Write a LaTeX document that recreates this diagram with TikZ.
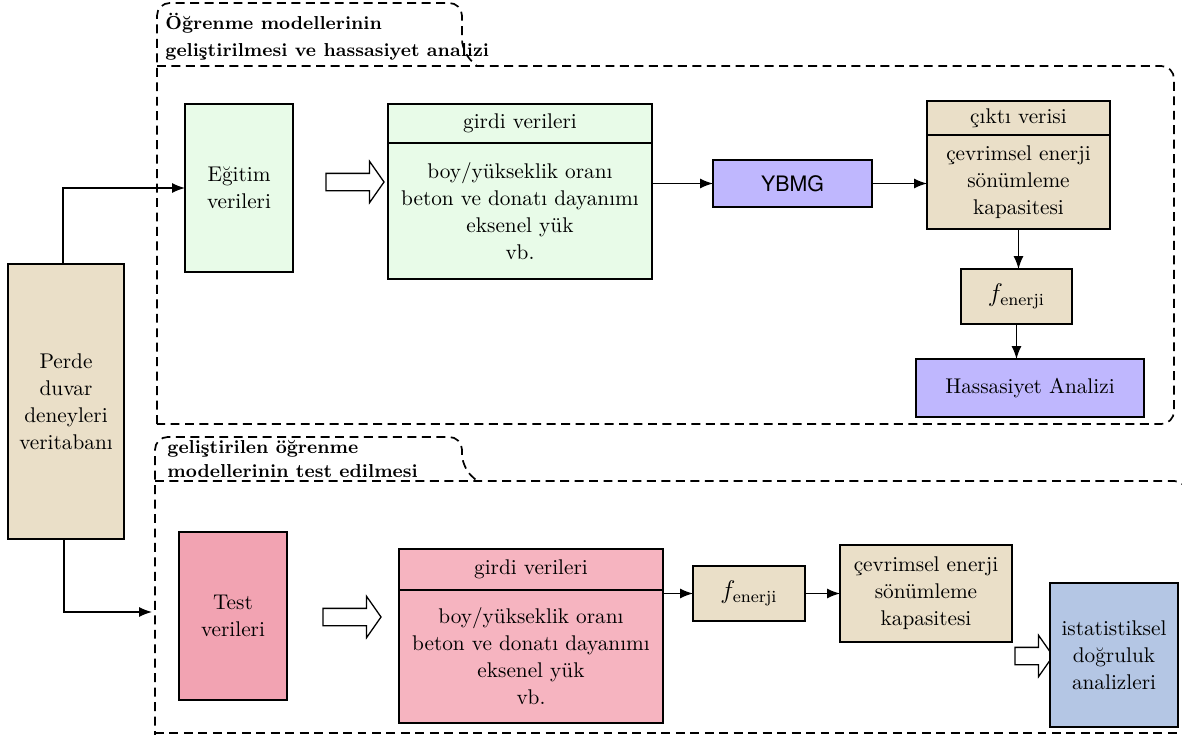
\documentclass[tikz,border=0pt]{standalone}
\usepackage{amsmath}
\usepackage{fontspec}
\usepackage{tikz}
\usetikzlibrary{shapes.arrows,arrows.meta}

\newfontfamily\heros{TeX Gyre Heros}
\definecolor{bej}{HTML}{EADFC8}
\definecolor{yesil}{HTML}{E8FBE8}
\definecolor{lila}{HTML}{BFB7FE}
\definecolor{pembe}{HTML}{F2A3B2}
\definecolor{acikpembe}{HTML}{F6B4C0}
\definecolor{mavi}{HTML}{B4C6E4}
\newcommand{\px}{0.47pt}

\begin{document}
\begin{tikzpicture}
    [ x=0.47pt, y=-0.47pt
    , font=\fontsize{10}{12.7}\selectfont
    , kutu/.style={draw, line width=0.8pt, inner sep=0pt, outer sep=0pt, align=center}
    , cerceve/.style={line width=0.8pt, dash pattern=on 4.2pt off 2.6pt, rounded corners=6pt}
    , baslik/.style={font=\fontsize{8.8}{12.4}\selectfont\bfseries, align=left, inner sep=0pt, anchor=north west}
    , ok/.style={-{Latex[length=6pt,width=4.6pt]}, line width=0.6pt}
    , bosok/.style={single arrow, draw, line width=0.6pt, fill=white, inner xsep=0pt, inner ysep=8*\px, single arrow head extend=12*\px, single arrow tip angle=110}
    , fmat/.style={font=\fontsize{12}{14}\selectfont}
    ]
\useasboundingbox (0,0) rectangle (1182,735);
\clip (0,0) rectangle (1182,735);

% ust grup
\draw[cerceve] (157,424) -- (157,3) -- (462,3) -- (462,52) -- (477,66);
\draw[cerceve] (157,66) -- (1174,66) -- (1174,424) -- (157,424);
\node[baslik] (baslik1) at (165,13) {Öğrenme modellerinin\\geliştirilmesi ve hassasiyet analizi};

% alt grup
\draw[cerceve] (155,740) -- (155,437) -- (462,437) -- (462,467) -- (477,481);
\draw[cerceve] (155,481) -- (1187,481) -- (1187,740);
\draw[cerceve] (155,733) -- (1190,733);
\node[baslik, font=\fontsize{8.8}{11.3}\selectfont\bfseries] (baslik2) at (167,440) {geliştirilen öğrenme\\modellerinin test edilmesi};

\node[kutu, fill=bej, minimum width=116*\px, minimum height=275*\px] (db) at (66,401.5) {Perde\\duvar\\deneyleri\\veritabanı};

\node[kutu, fill=yesil, minimum width=108*\px, minimum height=168*\px] (egitim) at (239,188) {Eğitim\\verileri};
\node[bosok, minimum height=58*\px] (bos1) at (352,182) {};
\node[kutu, fill=yesil, minimum width=264*\px, minimum height=39*\px] (girdi1) at (520,123.5) {girdi verileri};
\node[kutu, fill=yesil, minimum width=264*\px, minimum height=136*\px, anchor=north] (deger1) at (girdi1.south) {boy/yükseklik oranı\\beton ve donatı dayanımı\\eksenel yük\\vb.};
\node[kutu, fill=lila, minimum width=159*\px, minimum height=47*\px, font=\heros] (ybmg) at (792.5,183.5) {YBMG};
\node[kutu, fill=bej, minimum width=183*\px, minimum height=34*\px] (cikti) at (1018.5,118) {çıktı verisi};
\node[kutu, fill=bej, minimum width=183*\px, minimum height=94*\px, anchor=north] (enerji1) at (cikti.south) {çevrimsel enerji\\sönümleme\\kapasitesi};
\node[kutu, fmat, fill=bej, minimum width=111*\px, minimum height=55*\px] (fen1) at (1016.5,296.5) {$f_{\mathrm{enerji}}$};
\node[kutu, fill=lila, minimum width=228*\px, minimum height=58*\px] (hass) at (1030,388) {Hassasiyet Analizi};

\node[kutu, fill=pembe, minimum width=108*\px, minimum height=168*\px] (test) at (233,616) {Test\\verileri};
\node[bosok, minimum height=58*\px] (bos2) at (349,617) {};
\node[kutu, fill=acikpembe, minimum width=264*\px, minimum height=41*\px] (girdi2) at (531,569.5) {girdi verileri};
\node[kutu, fill=acikpembe, minimum width=264*\px, minimum height=133*\px, anchor=north] (deger2) at (girdi2.south) {boy/yükseklik oranı\\beton ve donatı dayanımı\\eksenel yük\\vb.};
\node[kutu, fmat, fill=bej, minimum width=112*\px, minimum height=55*\px] (fen2) at (749,593.5) {$f_{\mathrm{enerji}}$};
\node[kutu, fill=bej, minimum width=172*\px, minimum height=97*\px] (enerji2) at (926,593.5) {çevrimsel enerji\\sönümleme\\kapasitesi};
\node[bosok, minimum height=38*\px] (bos3) at (1031,656) {};
\node[kutu, fill=mavi, minimum width=128*\px, minimum height=144*\px] (dogruluk) at (1114,655) {istatistiksel\\doğruluk\\analizleri};

\coordinate (testgiris) at (152,612);

\draw[ok] ([xshift=-3*\px]db.north) |- (egitim.west);
\draw[ok] ([xshift=-2*\px]db.south) |- (testgiris);
\draw[ok] (deger1.east |- ybmg) -- (ybmg.west);
\draw[ok] (ybmg.east) -- (ybmg.east -| enerji1.west);
\draw[ok] (enerji1.south) -- (enerji1.south |- fen1.north);
\draw[ok] (fen1.south) -- (fen1.south |- hass.north);
\draw[ok] (deger2.east |- fen2) -- (fen2.west);
\draw[ok] (fen2.east) -- (fen2.east -| enerji2.west);

\end{tikzpicture}
\end{document}
